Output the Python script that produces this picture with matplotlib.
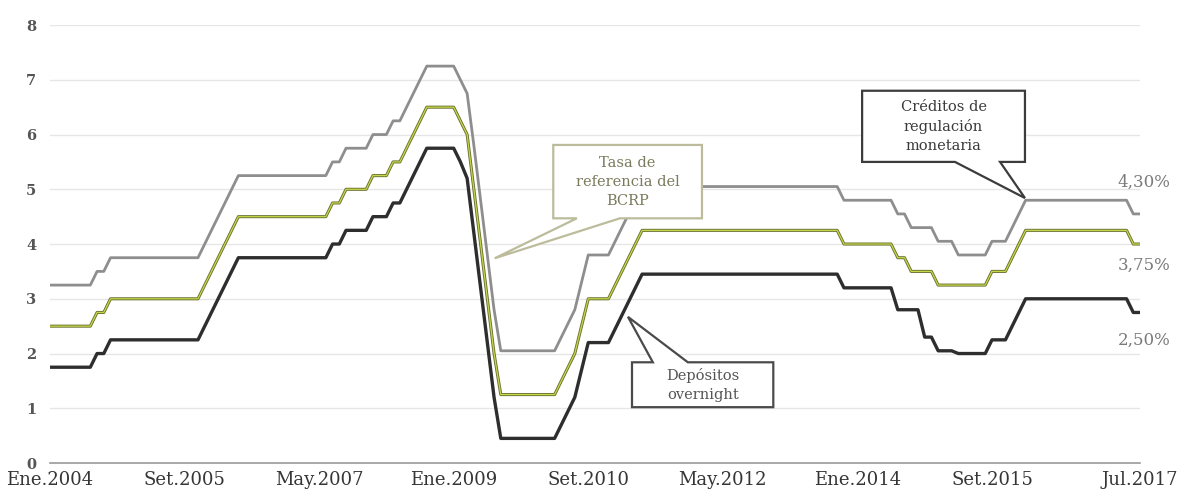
import matplotlib.pyplot as plt
from matplotlib.patches import Polygon

# meses desde Ene.2004 hasta Jul.2017 (una fila por año)
tasa_ref = [
    2.5, 2.5, 2.5, 2.5, 2.5, 2.5, 2.5, 2.75, 2.75, 3.0, 3.0, 3.0,
    3.0, 3.0, 3.0, 3.0, 3.0, 3.0, 3.0, 3.0, 3.0, 3.0, 3.0, 3.25,
    3.5, 3.75, 4.0, 4.25, 4.5, 4.5, 4.5, 4.5, 4.5, 4.5, 4.5, 4.5,
    4.5, 4.5, 4.5, 4.5, 4.5, 4.5, 4.75, 4.75, 5.0, 5.0, 5.0, 5.0,
    5.25, 5.25, 5.25, 5.5, 5.5, 5.75, 6.0, 6.25, 6.5, 6.5, 6.5, 6.5,
    6.5, 6.25, 6.0, 5.0, 4.0, 3.0, 2.0, 1.25, 1.25, 1.25, 1.25, 1.25,
    1.25, 1.25, 1.25, 1.25, 1.5, 1.75, 2.0, 2.5, 3.0, 3.0, 3.0, 3.0,
    3.25, 3.5, 3.75, 4.0, 4.25, 4.25, 4.25, 4.25, 4.25, 4.25, 4.25, 4.25,
    4.25, 4.25, 4.25, 4.25, 4.25, 4.25, 4.25, 4.25, 4.25, 4.25, 4.25, 4.25,
    4.25, 4.25, 4.25, 4.25, 4.25, 4.25, 4.25, 4.25, 4.25, 4.25, 4.0, 4.0,
    4.0, 4.0, 4.0, 4.0, 4.0, 4.0, 3.75, 3.75, 3.5, 3.5, 3.5, 3.5,
    3.25, 3.25, 3.25, 3.25, 3.25, 3.25, 3.25, 3.25, 3.5, 3.5, 3.5, 3.75,
    4.0, 4.25, 4.25, 4.25, 4.25, 4.25, 4.25, 4.25, 4.25, 4.25, 4.25, 4.25,
    4.25, 4.25, 4.25, 4.25, 4.25, 4.0, 4.0,
]

creditos = [
    3.25, 3.25, 3.25, 3.25, 3.25, 3.25, 3.25, 3.5, 3.5, 3.75, 3.75, 3.75,
    3.75, 3.75, 3.75, 3.75, 3.75, 3.75, 3.75, 3.75, 3.75, 3.75, 3.75, 4.0,
    4.25, 4.5, 4.75, 5.0, 5.25, 5.25, 5.25, 5.25, 5.25, 5.25, 5.25, 5.25,
    5.25, 5.25, 5.25, 5.25, 5.25, 5.25, 5.5, 5.5, 5.75, 5.75, 5.75, 5.75,
    6.0, 6.0, 6.0, 6.25, 6.25, 6.5, 6.75, 7.0, 7.25, 7.25, 7.25, 7.25,
    7.25, 7.0, 6.75, 5.8, 4.8, 3.8, 2.8, 2.05, 2.05, 2.05, 2.05, 2.05,
    2.05, 2.05, 2.05, 2.05, 2.3, 2.55, 2.8, 3.3, 3.8, 3.8, 3.8, 3.8,
    4.05, 4.3, 4.55, 4.8, 5.05, 5.05, 5.05, 5.05, 5.05, 5.05, 5.05, 5.05,
    5.05, 5.05, 5.05, 5.05, 5.05, 5.05, 5.05, 5.05, 5.05, 5.05, 5.05, 5.05,
    5.05, 5.05, 5.05, 5.05, 5.05, 5.05, 5.05, 5.05, 5.05, 5.05, 4.8, 4.8,
    4.8, 4.8, 4.8, 4.8, 4.8, 4.8, 4.55, 4.55, 4.3, 4.3, 4.3, 4.3,
    4.05, 4.05, 4.05, 3.8, 3.8, 3.8, 3.8, 3.8, 4.05, 4.05, 4.05, 4.3,
    4.55, 4.8, 4.8, 4.8, 4.8, 4.8, 4.8, 4.8, 4.8, 4.8, 4.8, 4.8,
    4.8, 4.8, 4.8, 4.8, 4.8, 4.55, 4.55,
]

depositos = [
    1.75, 1.75, 1.75, 1.75, 1.75, 1.75, 1.75, 2.0, 2.0, 2.25, 2.25, 2.25,
    2.25, 2.25, 2.25, 2.25, 2.25, 2.25, 2.25, 2.25, 2.25, 2.25, 2.25, 2.5,
    2.75, 3.0, 3.25, 3.5, 3.75, 3.75, 3.75, 3.75, 3.75, 3.75, 3.75, 3.75,
    3.75, 3.75, 3.75, 3.75, 3.75, 3.75, 4.0, 4.0, 4.25, 4.25, 4.25, 4.25,
    4.5, 4.5, 4.5, 4.75, 4.75, 5.0, 5.25, 5.5, 5.75, 5.75, 5.75, 5.75,
    5.75, 5.5, 5.2, 4.2, 3.2, 2.2, 1.2, 0.45, 0.45, 0.45, 0.45, 0.45,
    0.45, 0.45, 0.45, 0.45, 0.7, 0.95, 1.2, 1.7, 2.2, 2.2, 2.2, 2.2,
    2.45, 2.7, 2.95, 3.2, 3.45, 3.45, 3.45, 3.45, 3.45, 3.45, 3.45, 3.45,
    3.45, 3.45, 3.45, 3.45, 3.45, 3.45, 3.45, 3.45, 3.45, 3.45, 3.45, 3.45,
    3.45, 3.45, 3.45, 3.45, 3.45, 3.45, 3.45, 3.45, 3.45, 3.45, 3.2, 3.2,
    3.2, 3.2, 3.2, 3.2, 3.2, 3.2, 2.8, 2.8, 2.8, 2.8, 2.3, 2.3,
    2.05, 2.05, 2.05, 2.0, 2.0, 2.0, 2.0, 2.0, 2.25, 2.25, 2.25, 2.5,
    2.75, 3.0, 3.0, 3.0, 3.0, 3.0, 3.0, 3.0, 3.0, 3.0, 3.0, 3.0,
    3.0, 3.0, 3.0, 3.0, 3.0, 2.75, 2.75,
]

etiquetas = ['Ene.2004', 'Set.2005', 'May.2007', 'Ene.2009', 'Set.2010',
             'May.2012', 'Ene.2014', 'Set.2015', 'Jul.2017']
pos_etiquetas = [0, 20, 40, 60, 80, 100, 120, 140, 162]
finales = ['4,30%', '3,75%', '2,50%']

meses = list(range(len(tasa_ref)))

fig = plt.figure(figsize=(11.81, 5.01), dpi=100)
ax = fig.add_axes([0.0423, 0.0758, 0.9230, 0.8742])

ax.plot(meses, creditos, color='#8e8e8e', lw=2.0, zorder=3)
ax.plot(meses, tasa_ref, color='#6b7030', lw=2.2, zorder=3)
ax.plot(meses, tasa_ref, color='#c4d84a', lw=0.9, zorder=3)
ax.plot(meses, depositos, color='#2e2e2e', lw=2.4, zorder=3)

ax.set_xlim(0, 162)
ax.set_ylim(0, 8)
ax.set_yticks(range(0, 9))
ax.set_xticks(pos_etiquetas)
ax.set_xticklabels(etiquetas)
ax.grid(axis='y', color='#e6e6e6', lw=1.0)
ax.set_axisbelow(True)
for s in ['top', 'right', 'left']:
    ax.spines[s].set_visible(False)
ax.spines['bottom'].set_color('#9a9a9a')
ax.spines['bottom'].set_linewidth(1.2)
ax.tick_params(axis='both', length=0)
ax.tick_params(axis='x', pad=6)
ax.tick_params(axis='y', pad=10)
for t in ax.get_xticklabels():
    t.set_fontfamily('DejaVu Serif')
    t.set_fontsize(13)
    t.set_color('#353535')
for t in ax.get_yticklabels():
    t.set_fontfamily('DejaVu Serif')
    t.set_fontsize(10.5)
    t.set_color('#555555')
    t.set_fontweight('bold')


def callout(x0, x1, y0, y1, b0, b1, tip, lado, texto, borde, color_txt):
    if lado == 'abajo':
        pts = [(x0, y1), (x1, y1), (x1, y0), (b1, y0), tip, (b0, y0), (x0, y0)]
    else:
        pts = [(x0, y1), (b0, y1), tip, (b1, y1), (x1, y1), (x1, y0), (x0, y0)]
    ax.add_patch(Polygon(pts, closed=True, facecolor='white', edgecolor=borde,
                         lw=1.6, zorder=5, clip_on=False))
    ax.text((x0 + x1) / 2, (y0 + y1) / 2, texto, ha='center', va='center',
            family='DejaVu Serif', fontsize=10.5, color=color_txt,
            linespacing=1.45, zorder=6)


callout(74.8, 96.9, 4.47, 5.81, 78.3, 84.7, (66.1, 3.74), 'abajo',
        'Tasa de\nreferencia del\nBCRP', '#bcbc9c', '#7a7a5c')
callout(120.7, 144.9, 5.50, 6.80, 134.5, 141.2, (144.9, 4.84), 'abajo',
        'Créditos de\nregulación\nmonetaria', '#3c3c3c', '#3a3a3a')
callout(86.5, 107.5, 1.02, 1.84, 89.6, 94.8, (85.9, 2.67), 'arriba',
        'Depósitos\novernight', '#4a4a4a', '#555555')

for txt, yv in zip(finales, [5.13, 3.62, 2.25]):
    ax.text(162.6, yv, txt, ha='center', va='center', family='DejaVu Serif',
            fontsize=12, color='#7a7a7a', clip_on=False)

fig.savefig('out.png', dpi=100)
